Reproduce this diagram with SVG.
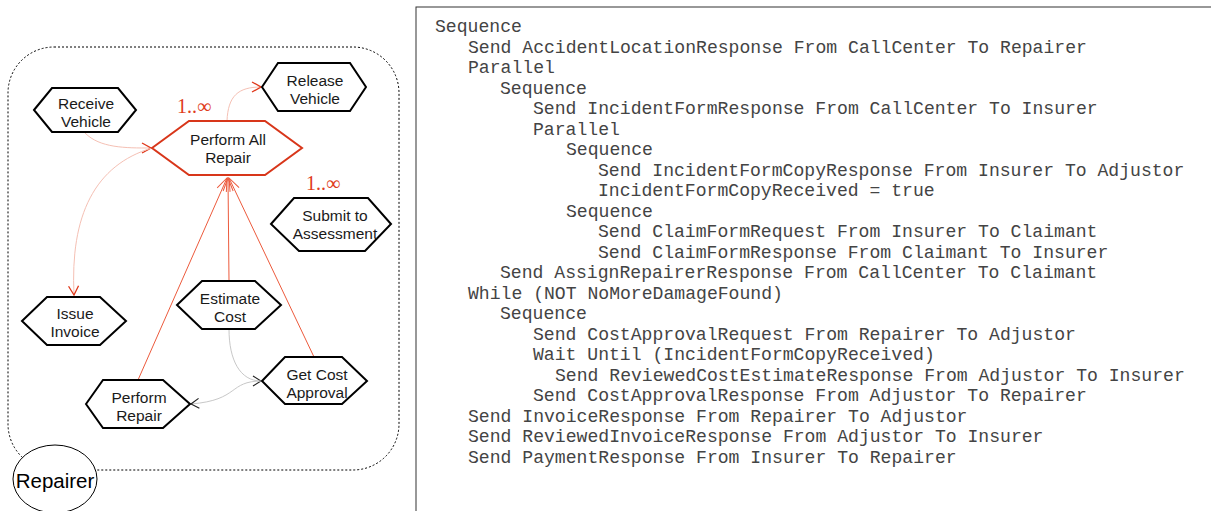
<svg xmlns="http://www.w3.org/2000/svg" width="1211" height="511" viewBox="0 0 1211 511">
<style>
.hex{fill:#fff;stroke:#000;stroke-width:2;stroke-linejoin:miter}
.hexr{fill:#fff;stroke:#d8361a;stroke-width:2}
.lbl{font-family:"Liberation Sans",Arial,sans-serif;font-size:15.5px;fill:#1a1a1a;text-anchor:middle}
.mult{font-family:"Liberation Serif","Times New Roman",serif;font-size:20px;fill:#e03c1c}
.code{font-family:"Liberation Mono","Courier New",monospace;font-size:18.1px;fill:#444}
.pink{fill:none;stroke:#f5c0b4;stroke-width:1}
.gray{fill:none;stroke:#c8c8c8;stroke-width:1}
.red{fill:none;stroke:#ec5a3c;stroke-width:1}
</style>
<defs>
<marker id="ar" viewBox="-13 -7 14 14" markerWidth="14" markerHeight="14" refX="0" refY="0" orient="auto" markerUnits="userSpaceOnUse">
<path d="M-9,-5 L0,0 L-9,5" fill="none" stroke="#e0381a" stroke-width="1.3"/>
</marker>
<marker id="arf" viewBox="-15 -7 16 14" markerWidth="16" markerHeight="14" refX="0" refY="0" orient="auto" markerUnits="userSpaceOnUse">
<path d="M-13,-5 L0,0 L-13,5" fill="none" stroke="#ec5a3c" stroke-width="1"/>
</marker>
<marker id="ak" viewBox="-13 -7 14 14" markerWidth="14" markerHeight="14" refX="0" refY="0" orient="auto" markerUnits="userSpaceOnUse">
<path d="M-8,-5 L0,0 L-8,5" fill="none" stroke="#222" stroke-width="1.2"/>
</marker>
</defs>

<g id="boundary">
<rect x="8" y="47" width="391" height="423" rx="46" ry="46" fill="none" stroke="#000" stroke-width="1" stroke-dasharray="2,2"/>
</g>

<g id="connectors">
<path class="pink" d="M85,133 C100,148 125,148 151,148" marker-end="url(#ar)"/>
<path class="pink" d="M152,148 C95,165 70,215 74,295" marker-end="url(#ar)"/>
<path class="pink" d="M227,121 C228,96 238,87 261,87" marker-end="url(#ar)"/>
<path class="red" d="M138,380 L227,178" marker-end="url(#arf)"/>
<path class="red" d="M229,281 L228,178" marker-end="url(#arf)"/>
<path class="red" d="M314,357 L229,178" marker-end="url(#arf)"/>
<path class="gray" d="M229,329 C229,360 240,381 261,381" marker-end="url(#ak)"/>
<path class="gray" d="M262,381 C228,381 240,400 191,404" marker-end="url(#ak)"/>
</g>

<g id="receive-vehicle">
<polygon class="hex" points="34,110 52,88 118,88 136,110 118,132 52,132"/>
<text class="lbl" x="86" y="108.5">Receive</text>
<text class="lbl" x="86" y="126.5">Vehicle</text>
</g>

<g id="release-vehicle">
<polygon class="hex" points="262,87 278,63 350,63 366,87 350,111 278,111"/>
<text class="lbl" x="315" y="85.5">Release</text>
<text class="lbl" x="315" y="103.5">Vehicle</text>
</g>

<g id="perform-all-repair">
<polygon class="hexr" points="152,148 189,121 265,121 302,148 265,175 189,175"/>
<text class="lbl" x="228" y="144.5">Perform All</text>
<text class="lbl" x="228" y="162.5">Repair</text>
<text class="mult" x="177" y="113">1..∞</text>
</g>

<g id="submit-assessment">
<polygon class="hex" points="271,224 294,198 368,198 391,224 365,251 299,251"/>
<text class="lbl" x="335" y="220.5">Submit to</text>
<text class="lbl" x="335" y="238.5">Assessment</text>
<text class="mult" x="306" y="190">1..∞</text>
</g>

<g id="issue-invoice">
<polygon class="hex" points="22,321 47,297 100,297 126,321 100,345 47,345"/>
<text class="lbl" x="75" y="318.5">Issue</text>
<text class="lbl" x="75" y="337">Invoice</text>
</g>

<g id="estimate-cost">
<polygon class="hex" points="177,305 202,281 255,281 281,305 255,329 202,329"/>
<text class="lbl" x="230" y="303.5">Estimate</text>
<text class="lbl" x="230" y="321.5">Cost</text>
</g>

<g id="get-cost-approval">
<polygon class="hex" points="262,381 285,357 342,357 367,381 342,404 285,404"/>
<text class="lbl" x="317" y="379.5">Get Cost</text>
<text class="lbl" x="317" y="398">Approval</text>
</g>

<g id="perform-repair">
<polygon class="hex" points="86,404 103,380 163,380 190,404 163,428 103,428"/>
<text class="lbl" x="139" y="402.5">Perform</text>
<text class="lbl" x="139" y="420.5">Repair</text>
</g>

<g id="repairer">
<ellipse cx="55" cy="479" rx="42" ry="34" fill="#fff" stroke="#000" stroke-width="1"/>
<text x="55" y="488" font-family="'Liberation Sans',Arial,sans-serif" font-size="20.5" text-anchor="middle" fill="#000">Repairer</text>
</g>

<g id="choreography">
<rect x="416" y="7" width="820" height="520" fill="#fff" stroke="#333" stroke-width="1"/>
<text class="code" x="435" y="32">Sequence</text>
<text class="code" x="468" y="52.5">Send AccidentLocationResponse From CallCenter To Repairer</text>
<text class="code" x="468" y="73">Parallel</text>
<text class="code" x="500" y="93.5">Sequence</text>
<text class="code" x="533" y="114">Send IncidentFormResponse From CallCenter To Insurer</text>
<text class="code" x="533" y="134.5">Parallel</text>
<text class="code" x="566" y="155">Sequence</text>
<text class="code" x="598" y="175.5">Send IncidentFormCopyResponse From Insurer To Adjustor</text>
<text class="code" x="598" y="196">IncidentFormCopyReceived = true</text>
<text class="code" x="566" y="216.5">Sequence</text>
<text class="code" x="598" y="237">Send ClaimFormRequest From Insurer To Claimant</text>
<text class="code" x="598" y="257.5">Send ClaimFormResponse From Claimant To Insurer</text>
<text class="code" x="500" y="278">Send AssignRepairerResponse From CallCenter To Claimant</text>
<text class="code" x="468" y="298.5">While (NOT NoMoreDamageFound)</text>
<text class="code" x="500" y="319">Sequence</text>
<text class="code" x="533" y="339.5">Send CostApprovalRequest From Repairer To Adjustor</text>
<text class="code" x="533" y="360">Wait Until (IncidentFormCopyReceived)</text>
<text class="code" x="555" y="380.5">Send ReviewedCostEstimateResponse From Adjustor To Insurer</text>
<text class="code" x="533" y="401">Send CostApprovalResponse From Adjustor To Repairer</text>
<text class="code" x="468" y="421.5">Send InvoiceResponse From Repairer To Adjustor</text>
<text class="code" x="468" y="442">Send ReviewedInvoiceResponse From Adjustor To Insurer</text>
<text class="code" x="468" y="462.5">Send PaymentResponse From Insurer To Repairer</text>
</g>
</svg>
